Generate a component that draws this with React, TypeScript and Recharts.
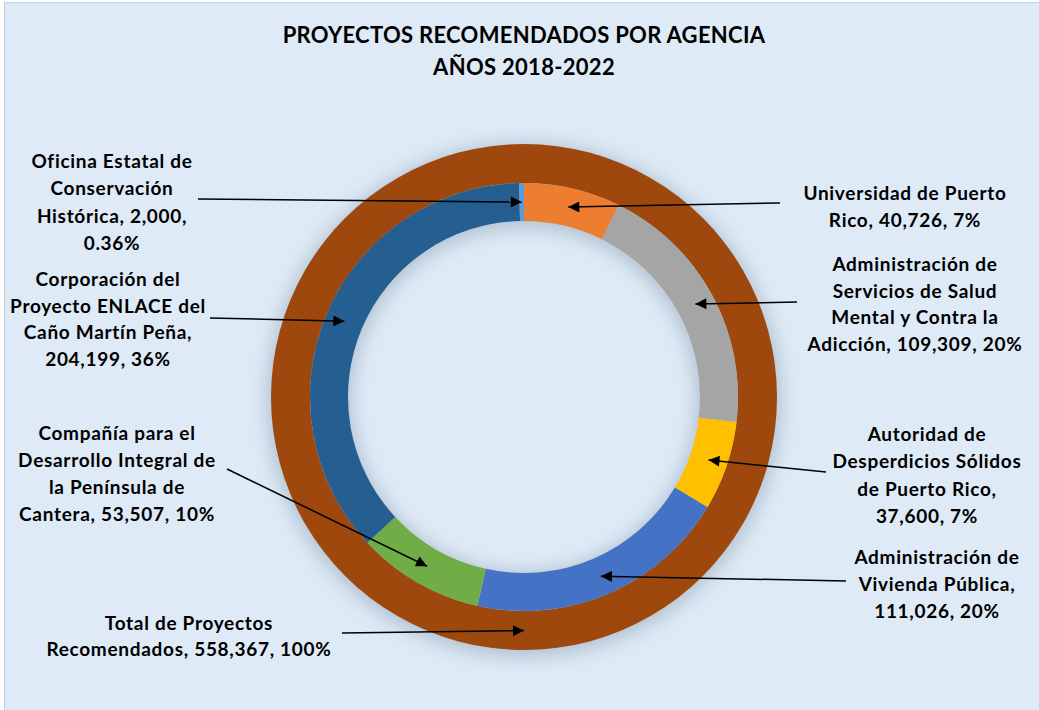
import React from "react";
import { PieChart, Pie, Cell } from "recharts";

// Datos por agencia, en el orden de las manecillas del reloj desde arriba
const agencias = [
  "Universidad de Puerto Rico",
  "Administración de Servicios de Salud Mental y Contra la Adicción",
  "Autoridad de Desperdicios Sólidos de Puerto Rico",
  "Administración de Vivienda Pública",
  "Compañía para el Desarrollo Integral de la Península de Cantera",
  "Corporación del Proyecto ENLACE del Caño Martín Peña",
  "Oficina Estatal de Conservación Histórica",
];
const montos = [40726, 109309, 37600, 111026, 53507, 204199, 2000];
const etiquetas = [
  ["Universidad de Puerto", "Rico, 40,726, 7%"],
  ["Administración de", "Servicios de Salud", "Mental y Contra la", "Adicción, 109,309, 20%"],
  ["Autoridad de", "Desperdicios Sólidos", "de Puerto Rico,", "37,600, 7%"],
  ["Administración de", "Vivienda Pública,", "111,026, 20%"],
  ["Compañía para el", "Desarrollo Integral de", "la Península de", "Cantera, 53,507, 10%"],
  ["Corporación del", "Proyecto ENLACE del", "Caño Martín Peña,", "204,199, 36%"],
  ["Oficina Estatal de", "Conservación", "Histórica, 2,000,", "0.36%"],
];

const totalNombre = "Total de Proyectos Recomendados";
const totalMonto = 558367;
const totalEtiqueta = ["Total de Proyectos", "Recomendados, 558,367, 100%"];

const colores = ["#ED7D31", "#A5A5A5", "#FFC000", "#4472C4", "#70AD47", "#255E91", "#5B9BD5"];
const colorTotal = "#9E480E";

// posicion de cada bloque de texto y del inicio de su flecha
const posEtiquetas = [
  { x: 905, y: 192, lh: 27, from: [780, 203] },
  { x: 915, y: 263, lh: 26.7, from: [797, 302] },
  { x: 927, y: 433, lh: 27.3, from: [826, 472] },
  { x: 937, y: 556, lh: 27, from: [846, 581] },
  { x: 117, y: 432, lh: 27, from: [227, 469] },
  { x: 108, y: 278, lh: 26.7, from: [210, 318] },
  { x: 112, y: 160, lh: 27.3, from: [198, 199] },
];
const posTotal = { x: 189, y: 622, lh: 26, from: [342, 633] };

const FONT = "Lato, 'Open Sans', sans-serif";
const RAD = Math.PI / 180;

const dataAgencias = agencias.map((name, i) => ({ name, value: montos[i] }));
const dataTotal = [{ name: totalNombre, value: totalMonto }];

const makeLabel = (getPos: (i: number) => any, getLines: (i: number) => string[]) => (props: any) => {
  const { cx, cy, midAngle, innerRadius, outerRadius, index } = props;
  const pos = getPos(index);
  const lines = getLines(index);
  const r = (innerRadius + outerRadius) / 2;
  const tx = cx + r * Math.cos(-midAngle * RAD);
  const ty = cy + r * Math.sin(-midAngle * RAD);
  return (
    <g key={`lbl-${index}`}>
      <line
        x1={pos.from[0]}
        y1={pos.from[1]}
        x2={tx}
        y2={ty}
        stroke="#000"
        strokeWidth={1.5}
        markerEnd="url(#flecha)"
      />
      <text
        textAnchor="middle"
        dominantBaseline="central"
        fontFamily={FONT}
        fontWeight={700}
        fontSize={19}
        letterSpacing={0.7}
        fill="#000"
      >
        {lines.map((l, i) => (
          <tspan key={i} x={pos.x} y={pos.y + i * pos.lh}>
            {l}
          </tspan>
        ))}
      </text>
    </g>
  );
};

export default function App() {
  return (
    <div
      style={{
        position: "fixed",
        left: 0,
        top: 0,
        width: 1039,
        height: 710,
        overflow: "hidden",
        background: "#fff",
      }}
    >
      <div
        style={{
          position: "absolute",
          left: 4,
          top: 2,
          width: 1040,
          height: 712,
          background: "#DEEAF6",
          border: "1.5px solid #BCD3EA",
          boxSizing: "border-box",
        }}
      />
      <div
        style={{
          position: "absolute",
          left: 0,
          top: 19,
          width: 1048,
          textAlign: "center",
          fontFamily: FONT,
          fontWeight: 700,
          fontSize: 22,
          letterSpacing: 0.3,
          lineHeight: "32px",
          color: "#000",
        }}
      >
        <div>PROYECTOS RECOMENDADOS POR AGENCIA</div>
        <div>AÑOS 2018-2022</div>
      </div>
      <div style={{ position: "absolute", left: 0, top: 0 }}>
        <PieChart width={1039} height={710} margin={{ top: 0, right: 0, bottom: 0, left: 0 }}>
          <defs>
            <marker
              id="flecha"
              viewBox="0 0 10 10"
              refX={10}
              refY={5}
              markerUnits="userSpaceOnUse"
              markerWidth={14}
              markerHeight={11}
              orient="auto"
            >
              <path d="M0,0 L10,5 L0,10 z" fill="#000" />
            </marker>
            <filter id="sombra" x="-20%" y="-20%" width="140%" height="140%">
              <feGaussianBlur stdDeviation={9} />
            </filter>
          </defs>
          {/* sombra suave del anillo */}
          <Pie
            data={dataTotal}
            dataKey="value"
            cx={524}
            cy={400}
            innerRadius={172}
            outerRadius={257}
            startAngle={90}
            endAngle={-270}
            stroke="none"
            isAnimationActive={false}
          >
            <Cell fill="#7d8fa3" fillOpacity={0.45} filter="url(#sombra)" />
          </Pie>
          <Pie
            data={dataTotal}
            dataKey="value"
            cx={524}
            cy={397}
            innerRadius={214}
            outerRadius={253}
            startAngle={90}
            endAngle={-270}
            stroke="none"
            isAnimationActive={false}
            labelLine={false}
            label={makeLabel(() => posTotal, () => totalEtiqueta)}
          >
            <Cell fill={colorTotal} />
          </Pie>
          <Pie
            data={dataAgencias}
            dataKey="value"
            cx={524}
            cy={397}
            innerRadius={176}
            outerRadius={214}
            startAngle={90}
            endAngle={-270}
            stroke="none"
            isAnimationActive={false}
            labelLine={false}
            label={makeLabel((i) => posEtiquetas[i], (i) => etiquetas[i])}
          >
            {dataAgencias.map((d, i) => (
              <Cell key={d.name} fill={colores[i]} />
            ))}
          </Pie>
        </PieChart>
      </div>
    </div>
  );
}
